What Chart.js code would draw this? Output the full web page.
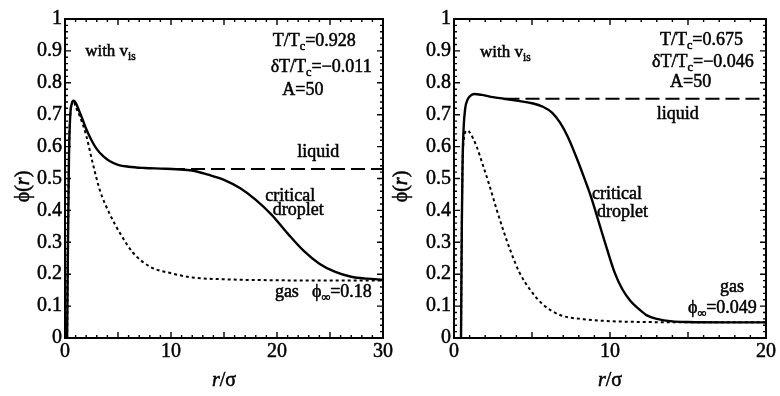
<!DOCTYPE html>
<html>
<head>
<meta charset="utf-8">
<script src="https://cdn.jsdelivr.net/npm/chart.js@4.4.1/dist/chart.umd.min.js"></script>
<style>
  html, body { margin: 0; padding: 0; background: #fff; }
  #wrap { position: relative; width: 780px; height: 396px; overflow: hidden; }
  canvas { position: absolute; top: 0; }
  #left { left: 0; }
  #right { left: 390px; }
</style>
</head>
<body>
<div id="wrap">
  <canvas id="left" width="400" height="396"></canvas>
  <canvas id="right" width="390" height="396"></canvas>
</div>
<script>
// T/Tc = 0.928 profile (left panel)
var leftDropR   = [0.2, 0.28, 0.38, 0.5, 0.65, 0.8, 1.0, 1.3, 1.6, 2.0, 2.5, 3.0, 3.6, 4.2, 5.0, 6.0, 7.5, 9.0, 10.5, 12.0, 13.5, 15.0, 16.5, 18.0, 19.5, 21.0, 22.5, 24.0, 25.5, 27.0, 28.5, 30.0];
var leftDropPhi = [0, 0.3, 0.58, 0.7, 0.735, 0.744, 0.738, 0.715, 0.69, 0.655, 0.62, 0.592, 0.57, 0.555, 0.543, 0.537, 0.533, 0.531, 0.529, 0.525, 0.512, 0.496, 0.47, 0.433, 0.386, 0.328, 0.274, 0.233, 0.207, 0.192, 0.186, 0.183];
var leftGasR    = [0.2, 0.28, 0.38, 0.5, 0.65, 0.8, 1.0, 1.4, 2.0, 2.6, 3.3, 4.2, 5.2, 6.4, 8.0, 10.0, 12.0, 15.0, 20.0, 25.0, 30.0];
var leftGasPhi  = [0, 0.3, 0.58, 0.7, 0.735, 0.744, 0.725, 0.695, 0.635, 0.55, 0.462, 0.39, 0.328, 0.268, 0.224, 0.203, 0.19, 0.184, 0.181, 0.18, 0.18];
var leftLiqR    = [10, 30];
var leftLiqPhi  = [0.53, 0.53];

// T/Tc = 0.675 profile (right panel)
var rightDropR   = [0.45, 0.5, 0.55, 0.62, 0.72, 0.85, 1.0, 1.3, 1.8, 2.5, 3.2, 4.0, 5.0, 5.7, 6.3, 6.8, 7.3, 7.8, 8.3, 8.8, 9.3, 9.8, 10.3, 10.8, 11.3, 11.8, 12.4, 13.0, 14.0, 15.0, 17.5, 20.0];
var rightDropPhi = [0, 0.35, 0.55, 0.66, 0.72, 0.745, 0.757, 0.765, 0.762, 0.755, 0.75, 0.744, 0.736, 0.725, 0.706, 0.675, 0.63, 0.572, 0.508, 0.44, 0.36, 0.28, 0.205, 0.152, 0.117, 0.093, 0.07, 0.06, 0.052, 0.05, 0.049, 0.049];
var rightGasR    = [0.45, 0.5, 0.55, 0.62, 0.72, 0.85, 1.0, 1.45, 1.9, 2.3, 2.75, 3.15, 3.6, 4.2, 4.9, 5.7, 6.8, 8.3, 10.4, 12.5, 15.0, 20.0];
var rightGasPhi  = [0, 0.35, 0.55, 0.62, 0.645, 0.65, 0.645, 0.6, 0.535, 0.474, 0.4, 0.339, 0.276, 0.205, 0.15, 0.105, 0.072, 0.059, 0.052, 0.05, 0.049, 0.049];
var rightLiqR    = [3.3, 20];
var rightLiqPhi  = [0.75, 0.75];

var yTickLabels = ['0', '0.1', '0.2', '0.3', '0.4', '0.5', '0.6', '0.7', '0.8', '0.9', '1'];
var leftXTicks  = ['0', '10', '20', '30'];
var rightXTicks = ['0', '10', '20'];

var SERIF = '"Liberation Serif", "Times New Roman", serif';
var PHI = '\u03d5';

function pts(xs, ys) {
  return xs.map(function (x, i) { return { x: x, y: ys[i] }; });
}

// text runs: [string, kind] with kind '' | 'i' (italic) | 's' (subscript)
function drawRuns(ctx, x, y, runs, size) {
  ctx.save();
  ctx.fillStyle = '#000';
  ctx.strokeStyle = '#000';
  ctx.lineWidth = 0.5;
  ctx.textBaseline = 'alphabetic';
  ctx.textAlign = 'left';
  runs.forEach(function (r) {
    var kind = r[1] || '';
    var sz = kind === 's' ? size * 0.68 : size;
    ctx.font = (kind === 'i' ? 'italic ' : '') + sz + 'px ' + SERIF;
    var dy = kind === 's' ? size * 0.22 : 0;
    ctx.fillText(r[0], x, y + dy);
    ctx.strokeText(r[0], x, y + dy);
    x += ctx.measureText(r[0]).width;
  });
  ctx.restore();
}

function runsWidth(ctx, runs, size) {
  var w = 0;
  ctx.save();
  runs.forEach(function (r) {
    var kind = r[1] || '';
    var sz = kind === 's' ? size * 0.68 : size;
    ctx.font = (kind === 'i' ? 'italic ' : '') + sz + 'px ' + SERIF;
    w += ctx.measureText(r[0]).width;
  });
  ctx.restore();
  return w;
}

// frame, inward ticks on all four sides, notes and axis titles
var framePlugin = {
  id: 'frame',
  afterDraw: function (chart, args, opts) {
    var ctx = chart.ctx, a = chart.chartArea;
    var xs = chart.scales.x, ys = chart.scales.y;
    ctx.save();
    ctx.strokeStyle = '#000';
    ctx.lineWidth = 1.4;
    ctx.beginPath();
    var v, p, len;
    for (v = 0; v <= xs.max + 1e-9; v += 1) {
      p = xs.getPixelForValue(v);
      len = (Math.round(v) % 5 === 0) ? 6 : 3;
      ctx.moveTo(p, a.bottom); ctx.lineTo(p, a.bottom - len);
      ctx.moveTo(p, a.top); ctx.lineTo(p, a.top + len);
    }
    for (var k = 0; k <= 50; k++) {
      p = ys.getPixelForValue(k * 0.02);
      len = (k % 5 === 0) ? 6 : 3;
      ctx.moveTo(a.left, p); ctx.lineTo(a.left + len, p);
      ctx.moveTo(a.right, p); ctx.lineTo(a.right - len, p);
    }
    ctx.stroke();
    ctx.lineWidth = 2;
    ctx.strokeRect(a.left, a.top, a.right - a.left, a.bottom - a.top);
    ctx.restore();

    opts.notes.forEach(function (n) {
      drawRuns(ctx, xs.getPixelForValue(n.x), ys.getPixelForValue(n.y), n.runs, n.size || 18);
    });

    // y title, rotated
    var yt = [[PHI + '('], ['r', 'i'], [')']];
    ctx.save();
    ctx.translate(opts.yTitleX, (a.top + a.bottom) / 2 + 8);
    ctx.rotate(-Math.PI / 2);
    drawRuns(ctx, -runsWidth(ctx, yt, 20) / 2, 6, yt, 20);
    ctx.restore();

    // x title
    var xt = [['r', 'i'], ['/\u03c3']];
    drawRuns(ctx, (a.left + a.right) / 2 - runsWidth(ctx, xt, 20) / 2, 386, xt, 20);
  }
};

function makePanel(id, xmax, xLabels, drop, gas, liq, padRight, yWidth, notes, yTitleX) {
  var tickFont = { family: SERIF, size: 20 };
  return new Chart(document.getElementById(id), {
    type: 'scatter',
    data: {
      datasets: [
        { data: liq, showLine: true, borderColor: '#000', borderWidth: 2, borderDash: [14, 6], pointRadius: 0 },
        { data: gas, showLine: true, borderColor: '#000', borderWidth: 2, borderDash: [3, 3], pointRadius: 0, cubicInterpolationMode: 'monotone' },
        { data: drop, showLine: true, borderColor: '#000', borderWidth: 2.4, pointRadius: 0, cubicInterpolationMode: 'monotone' }
      ]
    },
    options: {
      responsive: false,
      animation: false,
      events: [],
      layout: { padding: { left: 0, right: padRight, top: 19, bottom: 0 } },
      plugins: {
        legend: { display: false },
        tooltip: { enabled: false },
        frame: { notes: notes, yTitleX: yTitleX }
      },
      scales: {
        x: {
          type: 'linear', min: 0, max: xmax,
          grid: { display: false, drawTicks: false },
          border: { display: false },
          ticks: {
            stepSize: 10, padding: 2, color: '#000', font: tickFont, maxRotation: 0,
            textStrokeColor: '#000', textStrokeWidth: 0.5,
            callback: function (v, i) { return xLabels[i]; }
          },
          afterFit: function (s) { s.height = 58; }
        },
        y: {
          type: 'linear', min: 0, max: 1,
          grid: { display: false, drawTicks: false },
          border: { display: false },
          ticks: {
            stepSize: 0.1, padding: 3, color: '#000', font: tickFont,
            textStrokeColor: '#000', textStrokeWidth: 0.5,
            callback: function (v, i) { return yTickLabels[i]; }
          },
          afterFit: function (s) { s.width = yWidth; }
        }
      }
    },
    plugins: [framePlugin]
  });
}

var leftNotes = [
  { x: 1.9, y: 0.884, size: 17, runs: [['with v'], ['is', 's']] },
  { x: 19.6, y: 0.915, runs: [['T/T'], ['c', 's'], ['=0.928']] },
  { x: 19.4, y: 0.834, runs: [['\u03b4T/T'], ['c', 's'], ['=\u22120.011']] },
  { x: 20.5, y: 0.762, runs: [['A=50']] },
  { x: 21.9, y: 0.567, runs: [['liquid']] },
  { x: 18.9, y: 0.43, runs: [['critical']] },
  { x: 19.6, y: 0.386, runs: [['droplet']] },
  { x: 19.8, y: 0.129, runs: [['gas']] },
  { x: 23.3, y: 0.129, runs: [[PHI], ['\u221e', 's'], ['=0.18']] }
];

var rightNotes = [
  { x: 1.67, y: 0.881, size: 17, runs: [['with v'], ['is', 's']] },
  { x: 13.2, y: 0.918, runs: [['T/T'], ['c', 's'], ['=0.675']] },
  { x: 12.7, y: 0.85, runs: [['\u03b4T/T'], ['c', 's'], ['=\u22120.046']] },
  { x: 13.85, y: 0.787, runs: [['A=50']] },
  { x: 13.0, y: 0.687, runs: [['liquid']] },
  { x: 8.85, y: 0.436, runs: [['critical']] },
  { x: 9.17, y: 0.379, runs: [['droplet']] },
  { x: 17.05, y: 0.144, runs: [['gas']] },
  { x: 15.0, y: 0.078, runs: [[PHI], ['\u221e', 's'], ['=0.049']] }
];

makePanel('left', 30, leftXTicks, pts(leftDropR, leftDropPhi), pts(leftGasR, leftGasPhi), pts(leftLiqR, leftLiqPhi), 17, 65, leftNotes, 23);
makePanel('right', 20, rightXTicks, pts(rightDropR, rightDropPhi), pts(rightGasR, rightGasPhi), pts(rightLiqR, rightLiqPhi), 14, 64, rightNotes, 11);
</script>
</body>
</html>
